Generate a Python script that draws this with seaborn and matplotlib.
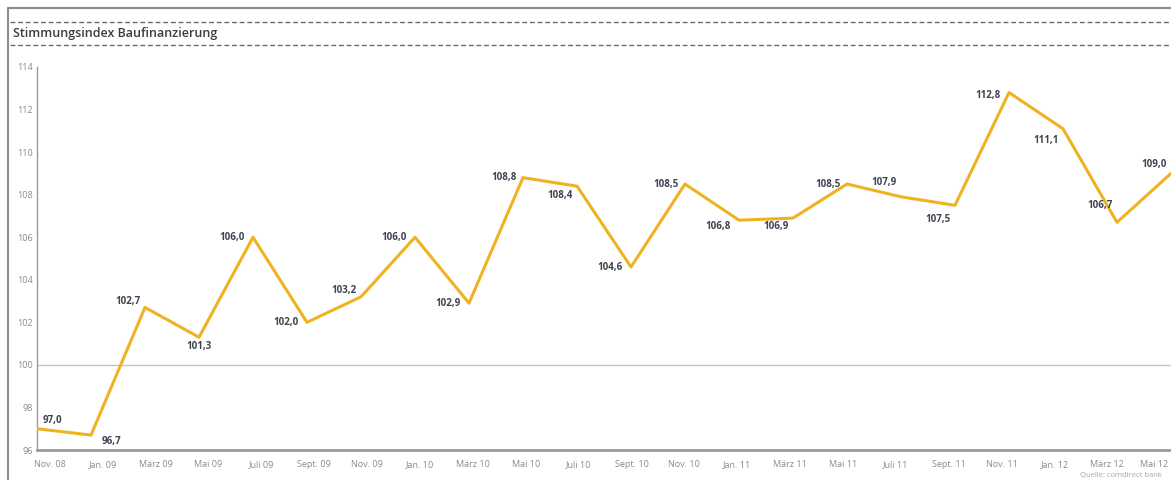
import numpy as np
import pandas as pd
import matplotlib
matplotlib.use("Agg")
import matplotlib.pyplot as plt
from matplotlib.lines import Line2D
import seaborn as sns

# ---- data ----
months = ["Nov. 08", "Jan. 09", "März 09", "Mai 09", "Juli 09", "Sept. 09", "Nov. 09",
          "Jan. 10", "März 10", "Mai 10", "Juli 10", "Sept. 10", "Nov. 10", "Jan. 11",
          "März 11", "Mai 11", "Juli 11", "Sept. 11", "Nov. 11", "Jan. 12", "März 12", "Mai 12"]
index_values = [97.0, 96.7, 102.7, 101.3, 106.0, 102.0, 103.2, 106.0, 102.9, 108.8, 108.4,
                104.6, 108.5, 106.8, 106.9, 108.5, 107.9, 107.5, 112.8, 111.1, 106.7, 109.0]
yticks = [96, 98, 100, 102, 104, 106, 108, 110, 112, 114]
title = "Stimmungsindex Baufinanzierung"
source = "Quelle: comdirect bank"

# label offsets in pixels (dx, dy) and alignment — styling only
label_offsets = [(6, 8, "left"), (11, -6, "left"), (-4, 6, "right"), (0, -9, "center"),
                 (-8, 0, "right"), (-8, 0, "right"), (-4, 6, "right"), (-8, 0, "right"),
                 (-8, 0, "right"), (-6, 0, "right"), (-4, -9, "right"), (-8, 0, "right"),
                 (-6, 0, "right"), (-8, -6, "right"), (-4, -8, "right"), (-6, 0, "right"),
                 (-4, 14, "right"), (-4, -14, "right"), (-8, -3, "right"), (-4, -12, "right"),
                 (-4, 17, "right"), (-4, 9, "right")]

df = pd.DataFrame({"x": np.arange(len(months)), "wert": index_values})

sns.set_theme(style="white")
plt.rcParams["font.family"] = ["Open Sans", "DejaVu Sans"]

fig = plt.figure(figsize=(11.71, 4.8), dpi=100)
ax = fig.add_axes([37 / 1171, 1 - 450 / 480, 1 - 37 / 1171, (450 - 67) / 480])

line_color = "#EFB221"
ax.axhline(100, color="#c4c4c4", lw=1.0, zorder=1)
sns.lineplot(data=df, x="x", y="wert", ax=ax, color=line_color, lw=2.2, zorder=3)

ax.set_xlim(0, len(months) - 1)
ax.set_ylim(96, 114)
ax.set_yticks(yticks)
ax.set_yticklabels([str(t) for t in yticks], fontsize=6.5, color="#8a8a8a")
tick_pos = 0.24 + np.arange(len(months)) * (20.56 / 21)
tick_pos[-1] -= 0.12
ax.set_xticks(tick_pos)
ax.set_xticklabels(months, fontsize=6.5, color="#8a8a8a")
ax.tick_params(axis="both", length=0)
ax.tick_params(axis="x", pad=7)
ax.tick_params(axis="y", pad=3)
ax.set_xlabel("")
ax.set_ylabel("")

for s in ["top", "right"]:
    ax.spines[s].set_visible(False)
ax.spines["left"].set_color("#9a9a9a")
ax.spines["left"].set_linewidth(1.0)
ax.spines["bottom"].set_color("#9a9a9a")
ax.spines["bottom"].set_linewidth(2.0)

for xi, v, (dx, dy, ha) in zip(df["x"], index_values, label_offsets):
    ax.annotate(f"{v:.1f}".replace(".", ","), (xi, v), xytext=(dx * 0.72, dy * 0.72),
                textcoords="offset points", ha=ha, va="center",
                fontsize=7, fontweight="bold", color="#3e4452", zorder=4)

# frame and header
fig.add_artist(Line2D([8 / 1171, 1], [1 - 8 / 480, 1 - 8 / 480], transform=fig.transFigure,
                      color="#8c8c8c", lw=1.5))
fig.add_artist(Line2D([8 / 1171, 8 / 1171], [0, 1 - 8 / 480], transform=fig.transFigure,
                      color="#8c8c8c", lw=1.5))
for yy in (22, 45):
    fig.add_artist(Line2D([10 / 1171, 1], [1 - yy / 480, 1 - yy / 480], transform=fig.transFigure,
                          color="#6a6a6a", lw=1.0, linestyle=(0, (3.5, 2.0))))
fig.text(13 / 1171, 1 - 33 / 480, title, fontsize=9, color="#3c3c3c", va="center", ha="left",
         fontweight="semibold")
fig.text(1080 / 1171, 1 - 475 / 480, source, fontsize=5.5, color="#a8a8a8", va="center", ha="left")

fig.savefig("out.png", dpi=100)
